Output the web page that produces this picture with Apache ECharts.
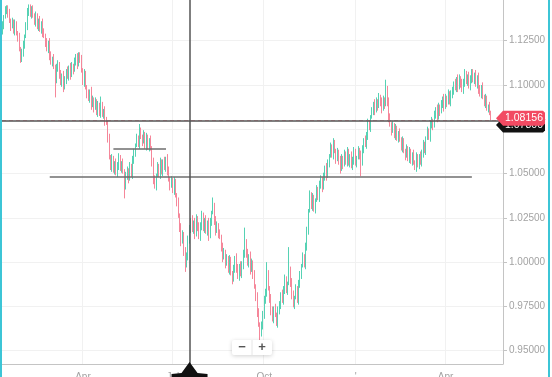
<!DOCTYPE html>
<html>
<head>
<meta charset="utf-8">
<script src="https://cdn.jsdelivr.net/npm/echarts@6/dist/echarts.min.js"></script>
<style>
html,body{margin:0;padding:0;background:#fff;}
#wrap{width:550px;height:377px;box-sizing:border-box;border-left:2px solid #3cc5d6;border-right:2px solid #3cc5d6;}
#chart{width:546px;height:377px;}
</style>
</head>
<body>
<div id="wrap"><div id="chart"></div></div>
<script>
// ---- data ----
const startDay = [2015, 0, 9];   // first trading day shown
const slotCount = 362;           // trading-day slots on the axis (incl. empty future slots)

const opens = [
1.1300,1.1340,1.1385,1.1420,1.1440,1.1410,1.1365,1.1330,1.1355,1.1310,
1.1340,1.1295,1.1270,1.1200,1.1140,1.1175,1.1230,1.1275,1.1330,1.1420,
1.1440,1.1400,1.1435,1.1390,1.1360,1.1385,1.1330,1.1365,1.1310,1.1345,
1.1300,1.1280,1.1240,1.1200,1.1235,1.1170,1.1130,1.1150,1.1100,1.1040,
1.1090,1.1120,1.1060,1.1010,1.1050,1.0990,1.1030,1.1080,1.1045,1.1095,
1.1060,1.1110,1.1085,1.1130,1.1160,1.1120,1.1170,1.1150,1.1080,1.1020,
1.1060,1.0990,1.0950,1.0920,1.0960,1.0890,1.0920,1.0870,1.0905,1.0850,
1.0880,1.0840,1.0880,1.0830,1.0850,1.0800,1.0790,1.0700,1.0590,1.0540,
1.0580,1.0520,1.0560,1.0500,1.0550,1.0585,1.0530,1.0560,1.0510,1.0440,
1.0480,1.0520,1.0470,1.0540,1.0500,1.0570,1.0620,1.0660,1.0700,1.0670,
1.0740,1.0710,1.0680,1.0720,1.0660,1.0700,1.0650,1.0690,1.0640,1.0560,
1.0470,1.0430,1.0490,1.0540,1.0500,1.0560,1.0510,1.0570,1.0530,1.0580,
1.0520,1.0470,1.0430,1.0460,1.0410,1.0450,1.0380,1.0340,1.0260,1.0190,
1.0120,1.0160,1.0060,0.9990,1.0040,1.0120,1.0190,1.0240,1.0180,1.0220,
1.0160,1.0250,1.0200,1.0140,1.0210,1.0260,1.0190,1.0240,1.0170,1.0220,
1.0150,1.0230,1.0280,1.0320,1.0230,1.0180,1.0210,1.0160,1.0140,1.0080,
1.0030,1.0060,0.9990,1.0020,0.9960,1.0010,0.9940,0.9900,0.9960,1.0020,
0.9970,0.9920,0.9980,0.9930,0.9990,1.0040,1.0120,1.0050,0.9990,1.0030,
0.9960,1.0000,0.9930,0.9860,0.9800,0.9720,0.9650,0.9590,0.9640,0.9710,
0.9780,0.9830,0.9930,0.9850,0.9790,0.9730,0.9680,0.9740,0.9700,0.9660,
0.9720,0.9760,0.9820,0.9780,0.9850,0.9900,0.9840,0.9880,0.9960,0.9880,
0.9820,0.9760,0.9800,0.9850,0.9790,0.9870,0.9930,0.9980,1.0030,0.9990,
1.0080,1.0180,1.0290,1.0380,1.0320,1.0360,1.0300,1.0350,1.0410,1.0370,
1.0430,1.0470,1.0420,1.0480,1.0530,1.0490,1.0560,1.0600,1.0650,1.0610,
1.0670,1.0630,1.0580,1.0620,1.0570,1.0530,1.0590,1.0550,1.0610,1.0570,
1.0620,1.0560,1.0600,1.0540,1.0580,1.0620,1.0560,1.0590,1.0630,1.0600,
1.0560,1.0640,1.0690,1.0660,1.0720,1.0780,1.0760,1.0820,1.0850,1.0890,
1.0860,1.0910,1.0880,1.0930,1.0900,1.0870,1.0920,1.0890,1.0980,1.0900,
1.0820,1.0780,1.0740,1.0770,1.0720,1.0750,1.0700,1.0730,1.0690,1.0650,
1.0680,1.0630,1.0600,1.0640,1.0590,1.0620,1.0570,1.0610,1.0560,1.0540,
1.0590,1.0550,1.0600,1.0560,1.0620,1.0660,1.0630,1.0700,1.0740,1.0710,
1.0770,1.0800,1.0770,1.0830,1.0860,1.0820,1.0880,1.0850,1.0890,1.0920,
1.0880,1.0930,1.0900,1.0950,1.0910,1.0940,1.0970,1.1010,1.0980,1.1030,
1.0990,1.1040,1.1010,1.0970,1.1020,1.1060,1.1020,1.1050,1.0990,1.1040,
1.1070,1.1030,1.1060,1.1000,1.1040,1.0980,1.0950,1.0990,1.0930,1.0900,
1.0920,1.0870,1.0880,1.0840
];
const closes = [
1.1340,1.1385,1.1420,1.1440,1.1410,1.1365,1.1330,1.1355,1.1310,1.1340,
1.1295,1.1270,1.1200,1.1140,1.1175,1.1230,1.1275,1.1330,1.1420,1.1440,
1.1400,1.1435,1.1390,1.1360,1.1385,1.1330,1.1365,1.1310,1.1345,1.1300,
1.1280,1.1240,1.1200,1.1235,1.1170,1.1130,1.1150,1.1100,1.1040,1.1090,
1.1120,1.1060,1.1010,1.1050,1.0990,1.1030,1.1080,1.1045,1.1095,1.1060,
1.1110,1.1085,1.1130,1.1160,1.1120,1.1170,1.1150,1.1080,1.1020,1.1060,
1.0990,1.0950,1.0920,1.0960,1.0890,1.0920,1.0870,1.0905,1.0850,1.0880,
1.0840,1.0880,1.0830,1.0850,1.0800,1.0790,1.0700,1.0590,1.0540,1.0580,
1.0520,1.0560,1.0500,1.0550,1.0585,1.0530,1.0560,1.0510,1.0440,1.0480,
1.0520,1.0470,1.0540,1.0500,1.0570,1.0620,1.0660,1.0700,1.0670,1.0740,
1.0710,1.0680,1.0720,1.0660,1.0700,1.0650,1.0690,1.0640,1.0560,1.0470,
1.0430,1.0490,1.0540,1.0500,1.0560,1.0510,1.0570,1.0530,1.0580,1.0520,
1.0470,1.0430,1.0460,1.0410,1.0450,1.0380,1.0340,1.0260,1.0190,1.0120,
1.0160,1.0060,0.9990,1.0040,1.0120,1.0190,1.0240,1.0180,1.0220,1.0160,
1.0250,1.0200,1.0140,1.0210,1.0260,1.0190,1.0240,1.0170,1.0220,1.0150,
1.0230,1.0280,1.0320,1.0230,1.0180,1.0210,1.0160,1.0140,1.0080,1.0030,
1.0060,0.9990,1.0020,0.9960,1.0010,0.9940,0.9900,0.9960,1.0020,0.9970,
0.9920,0.9980,0.9930,0.9990,1.0040,1.0120,1.0050,0.9990,1.0030,0.9960,
1.0000,0.9930,0.9860,0.9800,0.9720,0.9650,0.9590,0.9640,0.9710,0.9780,
0.9830,0.9930,0.9850,0.9790,0.9730,0.9680,0.9740,0.9700,0.9660,0.9720,
0.9760,0.9820,0.9780,0.9850,0.9900,0.9840,0.9880,0.9960,0.9880,0.9820,
0.9760,0.9800,0.9850,0.9790,0.9870,0.9930,0.9980,1.0030,0.9990,1.0080,
1.0180,1.0290,1.0380,1.0320,1.0360,1.0300,1.0350,1.0410,1.0370,1.0430,
1.0470,1.0420,1.0480,1.0530,1.0490,1.0560,1.0600,1.0650,1.0610,1.0670,
1.0630,1.0580,1.0620,1.0570,1.0530,1.0590,1.0550,1.0610,1.0570,1.0620,
1.0560,1.0600,1.0540,1.0580,1.0620,1.0560,1.0590,1.0630,1.0600,1.0560,
1.0640,1.0690,1.0660,1.0720,1.0780,1.0760,1.0820,1.0850,1.0890,1.0860,
1.0910,1.0880,1.0930,1.0900,1.0870,1.0920,1.0890,1.0980,1.0900,1.0820,
1.0780,1.0740,1.0770,1.0720,1.0750,1.0700,1.0730,1.0690,1.0650,1.0680,
1.0630,1.0600,1.0640,1.0590,1.0620,1.0570,1.0610,1.0560,1.0540,1.0590,
1.0550,1.0600,1.0560,1.0620,1.0660,1.0630,1.0700,1.0740,1.0710,1.0770,
1.0800,1.0770,1.0830,1.0860,1.0820,1.0880,1.0850,1.0890,1.0920,1.0880,
1.0930,1.0900,1.0950,1.0910,1.0940,1.0970,1.1010,1.0980,1.1030,1.0990,
1.1040,1.1010,1.0970,1.1020,1.1060,1.1020,1.1050,1.0990,1.1040,1.1070,
1.1030,1.1060,1.1000,1.1040,1.0980,1.0950,1.0990,1.0930,1.0900,1.0920,
1.0870,1.0880,1.0840,1.08156
];
const lows = [
1.1285,1.1315,1.1375,1.1400,1.1380,1.1350,1.1305,1.1320,1.1290,1.1280,
1.1280,1.1245,1.1190,1.1125,1.1130,1.1160,1.1205,1.1265,1.1310,1.1390,
1.1385,1.1375,1.1380,1.1340,1.1330,1.1315,1.1305,1.1300,1.1290,1.1270,
1.1265,1.1215,1.1190,1.1180,1.1140,1.1115,1.1105,1.1090,1.0930,1.1010,
1.1075,1.1035,1.1000,1.0990,1.0960,1.0975,1.1005,1.1035,1.1025,1.1030,
1.1045,1.1060,1.1075,1.1110,1.1090,1.1105,1.1125,1.1070,1.1000,1.0990,
1.0975,1.0925,1.0910,1.0900,1.0860,1.0875,1.0845,1.0860,1.0830,1.0820,
1.0825,1.0815,1.0820,1.0810,1.0770,1.0775,1.0675,1.0580,1.0520,1.0510,
1.0505,1.0495,1.0490,1.0480,1.0520,1.0515,1.0505,1.0500,1.0360,1.0410,
1.0465,1.0445,1.0460,1.0480,1.0470,1.0555,1.0595,1.0650,1.0650,1.0640,
1.0695,1.0655,1.0670,1.0640,1.0630,1.0635,1.0625,1.0630,1.0540,1.0440,
1.0415,1.0405,1.0480,1.0480,1.0470,1.0495,1.0485,1.0520,1.0510,1.0490,
1.0455,1.0405,1.0420,1.0390,1.0380,1.0365,1.0315,1.0250,1.0170,1.0090,
1.0105,1.0035,0.9945,0.9970,1.0010,1.0105,1.0165,1.0170,1.0160,1.0130,
1.0145,1.0175,1.0130,1.0120,1.0180,1.0175,1.0165,1.0160,1.0150,1.0120,
1.0135,1.0205,1.0270,1.0210,1.0150,1.0165,1.0135,1.0130,1.0060,1.0000,
1.0015,0.9965,0.9980,0.9940,0.9930,0.9925,0.9875,0.9890,0.9940,0.9940,
0.9905,0.9895,0.9920,0.9910,0.9960,1.0025,1.0025,0.9980,0.9970,0.9930,
0.9945,0.9905,0.9850,0.9780,0.9690,0.9635,0.9552,0.9580,0.9620,0.9680,
0.9765,0.9805,0.9840,0.9770,0.9700,0.9665,0.9655,0.9690,0.9640,0.9630,
0.9705,0.9735,0.9770,0.9760,0.9820,0.9825,0.9815,0.9870,0.9860,0.9790,
0.9745,0.9735,0.9790,0.9770,0.9760,0.9855,0.9905,0.9970,0.9970,0.9960,
1.0065,1.0155,1.0280,1.0300,1.0290,1.0285,1.0275,1.0340,1.0350,1.0340,
1.0415,1.0395,1.0410,1.0460,1.0460,1.0475,1.0535,1.0590,1.0590,1.0580,
1.0615,1.0555,1.0570,1.0550,1.0500,1.0515,1.0525,1.0540,1.0550,1.0540,
1.0545,1.0535,1.0530,1.0520,1.0550,1.0545,1.0535,1.0580,1.0580,1.0485,
1.0545,1.0615,1.0650,1.0640,1.0690,1.0745,1.0735,1.0810,1.0830,1.0830,
1.0845,1.0855,1.0870,1.0880,1.0840,1.0855,1.0865,1.0880,1.0880,1.0790,
1.0765,1.0715,1.0730,1.0700,1.0690,1.0685,1.0675,1.0680,1.0630,1.0620,
1.0615,1.0575,1.0590,1.0570,1.0560,1.0555,1.0545,1.0550,1.0520,1.0510,
1.0535,1.0525,1.0550,1.0540,1.0590,1.0615,1.0605,1.0690,1.0690,1.0680,
1.0755,1.0745,1.0760,1.0810,1.0790,1.0805,1.0825,1.0840,1.0870,1.0850,
1.0865,1.0875,1.0890,1.0890,1.0880,1.0925,1.0945,1.0970,1.0960,1.0960,
1.0975,1.0985,1.0960,1.0950,1.0990,1.1005,1.0995,1.0980,1.0970,1.1010,
1.1015,1.1005,1.0990,1.0980,1.0950,1.0935,1.0925,1.0920,1.0880,1.0870,
1.0855,1.0845,1.0830,1.0800
];
const highs = [
1.1360,1.1395,1.1445,1.1450,1.1450,1.1430,1.1375,1.1380,1.1370,1.1370,
1.1360,1.1305,1.1295,1.1215,1.1205,1.1250,1.1285,1.1355,1.1435,1.1455,
1.1455,1.1445,1.1450,1.1405,1.1415,1.1405,1.1375,1.1390,1.1360,1.1375,
1.1320,1.1290,1.1265,1.1250,1.1265,1.1190,1.1160,1.1175,1.1115,1.1120,
1.1140,1.1130,1.1085,1.1065,1.1080,1.1050,1.1090,1.1105,1.1110,1.1125,
1.1130,1.1120,1.1155,1.1175,1.1180,1.1185,1.1185,1.1170,1.1095,1.1090,
1.1080,1.1000,1.0975,1.0975,1.0990,1.0940,1.0930,1.0930,1.0920,1.0910,
1.0900,1.0935,1.0905,1.0865,1.0880,1.0820,1.0800,1.0725,1.0605,1.0610,
1.0600,1.0570,1.0585,1.0565,1.0615,1.0605,1.0570,1.0585,1.0525,1.0510,
1.0540,1.0530,1.0565,1.0555,1.0600,1.0640,1.0670,1.0725,1.0715,1.0780,
1.0760,1.0720,1.0745,1.0735,1.0730,1.0720,1.0700,1.0715,1.0655,1.0590,
1.0490,1.0500,1.0565,1.0555,1.0590,1.0580,1.0580,1.0595,1.0595,1.0610,
1.0540,1.0480,1.0485,1.0475,1.0480,1.0470,1.0390,1.0365,1.0275,1.0220,
1.0180,1.0170,1.0085,1.0055,1.0150,1.0210,1.0250,1.0265,1.0235,1.0250,
1.0270,1.0260,1.0225,1.0225,1.0290,1.0280,1.0250,1.0265,1.0235,1.0250,
1.0250,1.0290,1.0365,1.0335,1.0260,1.0230,1.0220,1.0185,1.0155,1.0110,
1.0080,1.0070,1.0045,1.0035,1.0040,1.0030,0.9950,0.9985,1.0035,1.0050,
0.9990,0.9990,1.0005,1.0005,1.0070,1.0195,1.0130,1.0075,1.0045,1.0060,
1.0020,1.0010,0.9955,0.9875,0.9830,0.9740,0.9660,0.9665,0.9725,0.9810,
0.9850,1.0000,0.9955,0.9865,0.9820,0.9750,0.9750,0.9765,0.9715,0.9750,
0.9780,0.9830,0.9845,0.9865,0.9930,0.9920,0.9890,1.0085,0.9975,0.9910,
0.9840,0.9810,0.9875,0.9865,0.9900,0.9950,0.9990,1.0055,1.0045,1.0110,
1.0200,1.0300,1.0405,1.0395,1.0390,1.0380,1.0360,1.0435,1.0425,1.0460,
1.0490,1.0480,1.0505,1.0545,1.0560,1.0580,1.0610,1.0675,1.0665,1.0700,
1.0690,1.0640,1.0645,1.0635,1.0600,1.0610,1.0600,1.0635,1.0625,1.0650,
1.0640,1.0610,1.0625,1.0595,1.0650,1.0640,1.0600,1.0655,1.0645,1.0630,
1.0660,1.0700,1.0715,1.0735,1.0810,1.0800,1.0830,1.0875,1.0905,1.0920,
1.0930,1.0920,1.0955,1.0945,1.0930,1.0940,1.0930,1.1030,1.0995,1.0930,
1.0840,1.0790,1.0795,1.0785,1.0780,1.0770,1.0740,1.0755,1.0705,1.0710,
1.0700,1.0640,1.0665,1.0655,1.0650,1.0640,1.0620,1.0635,1.0575,1.0620,
1.0610,1.0610,1.0625,1.0635,1.0690,1.0680,1.0710,1.0765,1.0755,1.0800,
1.0820,1.0810,1.0855,1.0875,1.0890,1.0900,1.0890,1.0915,1.0935,1.0950,
1.0950,1.0940,1.0975,1.0965,1.0970,1.0990,1.1020,1.1035,1.1045,1.1060,
1.1060,1.1050,1.1035,1.1035,1.1090,1.1080,1.1060,1.1075,1.1055,1.1090,
1.1090,1.1070,1.1085,1.1055,1.1070,1.1000,1.1000,1.1015,1.0945,1.0950,
1.0940,1.0890,1.0905,1.0855
];

const yMin = 0.9425, yMax = 1.1480;
const yTickValues = [0.95, 0.975, 1.0, 1.025, 1.05, 1.075, 1.1, 1.125];
const yLabelValues = [0.95, 0.975, 1.0, 1.025, 1.05, 1.1, 1.125];
const tickMonthKeys = ['2015-04', '2015-07', '2015-10', '2016-01', '2016-04'];
const tickMonthTexts = ['Apr', 'Jul', 'Oct', "'", 'Apr'];

const lastPrice = 1.08156;
const crossIndex = 135;
const crossValue = 1.0780;
const crossText = '1.07800';
// horizontal drawn levels: [start bar, end bar, price]
const levelLines = [[34, 339, 1.0481], [80, 118, 1.0639]];

// ---- calendar of trading days ----
const dates = [];
let t = Date.UTC(startDay[0], startDay[1], startDay[2]);
while (dates.length < slotCount) {
  const d = new Date(t);
  const wd = d.getUTCDay();
  if (wd !== 0 && wd !== 6) dates.push(d.toISOString().slice(0, 10));
  t += 86400000;
}
const isTickIdx = dates.map((d, i) => i > 0 && d.slice(0, 7) !== dates[i - 1].slice(0, 7) && tickMonthKeys.indexOf(d.slice(0, 7)) >= 0);
const tickFn = (idx) => isTickIdx[idx];

const candles = closes.map((c, i) => [opens[i], c, lows[i], highs[i]]);

const UP = '#56d2b4', DOWN = '#f5879a';
const FONT = '"Liberation Sans", Arial, sans-serif';

const chart = echarts.init(document.getElementById('chart'), null, {renderer: 'canvas'});
chart.setOption({
  animation: false,
  grid: {left: 0, right: 45, top: 0, bottom: 13, containLabel: false, outerBoundsMode: 'none'},
  xAxis: {
    type: 'category', data: dates, boundaryGap: true,
    axisLine: {lineStyle: {color: '#c4c4c4'}},
    axisTick: {interval: tickFn, alignWithLabel: true, length: 5, lineStyle: {color: '#c4c4c4'}},
    axisLabel: {interval: tickFn, color: '#a3a3a3', fontSize: 10, fontFamily: FONT, margin: 8,
      formatter: (v) => { const k = tickMonthKeys.indexOf(v.slice(0, 7)); return k >= 0 ? tickMonthTexts[k] : ''; }},
    splitLine: {show: true, interval: tickFn, lineStyle: {color: '#f1f1f1'}}
  },
  yAxis: {
    type: 'value', position: 'right', min: yMin, max: yMax,
    axisLine: {show: true, lineStyle: {color: '#c4c4c4'}},
    axisTick: {show: true, customValues: yTickValues, length: 4, lineStyle: {color: '#c4c4c4'}},
    axisLabel: {customValues: yLabelValues, color: '#a3a3a3', fontSize: 10, fontFamily: FONT, margin: 6,
      formatter: (v) => v.toFixed(5)},
    splitLine: {show: true, lineStyle: {color: '#f1f1f1'}}
  },
  series: [{
    type: 'candlestick',
    data: candles,
    barWidth: '60%',
    itemStyle: {color: UP, color0: DOWN, borderColor: UP, borderColor0: DOWN, borderWidth: 1},
    markLine: {
      silent: true, symbol: ['none', 'none'], label: {show: false}, animation: false,
      data: [
        {yAxis: lastPrice, lineStyle: {type: [4, 3], color: '#f5a3b0', width: 1}},
        [{coord: [dates[levelLines[0][0]], levelLines[0][2]]}, {coord: [dates[levelLines[0][1]], levelLines[0][2]], lineStyle: {color: '#6e6e6e', width: 1.5, type: 'solid'}}],
        [{coord: [dates[levelLines[1][0]], levelLines[1][2]]}, {coord: [dates[levelLines[1][1]], levelLines[1][2]], lineStyle: {color: '#6e6e6e', width: 1.5, type: 'solid'}}],
        {yAxis: crossValue, lineStyle: {color: '#555', width: 1.5, type: 'solid'}},
        {xAxis: dates[crossIndex], lineStyle: {color: '#555', width: 1.5, type: 'solid'}}
      ]
    }
  }]
});

// ---- overlay labels placed through the axes ----
const yP = chart.convertToPixel({yAxisIndex: 0}, lastPrice);
const yC = chart.convertToPixel({yAxisIndex: 0}, crossValue);
const xC = chart.convertToPixel({xAxisIndex: 0}, dates[crossIndex]);
const plotRight = 546 - 45;
function tag(y, fill, text, z) {
  return [{
    type: 'polygon', z: z, silent: true,
    shape: {points: [[plotRight - 7, y], [plotRight, y - 7.5], [plotRight + 40, y - 7.5], [plotRight + 42, y - 5.5], [plotRight + 42, y + 5.5], [plotRight + 40, y + 7.5], [plotRight, y + 7.5]]},
    style: {fill: fill}
  }, {
    type: 'text', z: z + 1, silent: true, x: plotRight + 21, y: y,
    style: {text: text, fill: '#fff', font: '10.5px ' + FONT, align: 'center', verticalAlign: 'middle'}
  }];
}
chart.setOption({
  graphic: [].concat(
    tag(yC + 1, '#111', crossText, 100),
    tag(yP + 0.5, '#f24a62', lastPrice.toFixed(5), 110),
    [{
      type: 'polygon', z: 100, silent: true,
      shape: {points: [[xC, 362], [xC + 8, 373], [xC + 18, 374], [xC + 18, 378], [xC - 18, 378], [xC - 18, 374], [xC - 8, 373]]},
      style: {fill: '#111'}
    }, {
      type: 'rect', z: 120, silent: true,
      shape: {x: 230, y: 340, width: 40, height: 15, r: 2},
      style: {fill: '#fff', shadowBlur: 4, shadowColor: 'rgba(0,0,0,0.18)', shadowOffsetY: 1}
    }, {
      type: 'line', z: 121, silent: true,
      shape: {x1: 250, y1: 340, x2: 250, y2: 355},
      style: {stroke: '#e6e6e6', lineWidth: 1}
    }, {
      type: 'text', z: 122, silent: true, x: 240, y: 347.5,
      style: {text: '−', fill: '#555', font: 'bold 13px ' + FONT, align: 'center', verticalAlign: 'middle'}
    }, {
      type: 'text', z: 122, silent: true, x: 260, y: 347.5,
      style: {text: '+', fill: '#555', font: 'bold 13px ' + FONT, align: 'center', verticalAlign: 'middle'}
    }]
  )
});
</script>
</body>
</html>
